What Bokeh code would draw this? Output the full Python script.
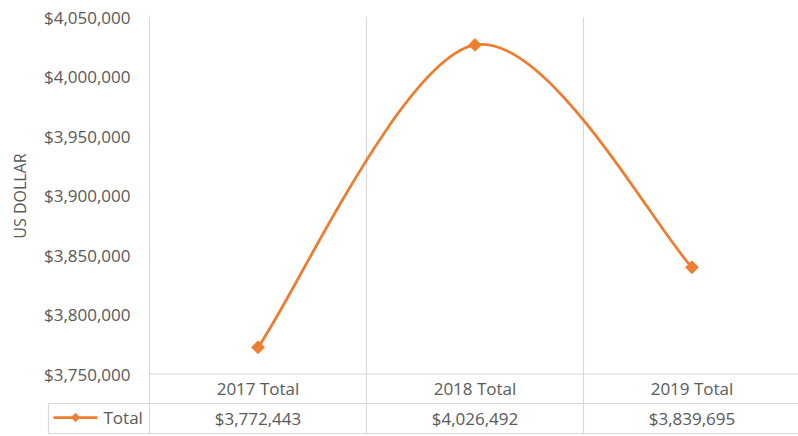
import math
from bokeh.plotting import figure
from bokeh.models import Range1d
from bokeh.core.properties import value
from bokeh.embed import file_html
from bokeh.resources import INLINE

# ---------------- data ----------------
categories = ["2017 Total", "2018 Total", "2019 Total"]
totals = [3772443, 4026492, 3839695]
value_labels = ["$3,772,443", "$4,026,492", "$3,839,695"]
y_ticks = [3750000, 3800000, 3850000, 3900000, 3950000, 4000000, 4050000]
y_tick_labels = ["$3,750,000", "$3,800,000", "$3,850,000", "$3,900,000",
                 "$3,950,000", "$4,000,000", "$4,050,000"]
series_name = "Total"
axis_title = "US DOLLAR"

# ---------------- layout ----------------
W, H = 798, 436
LEFT = 149          # canvas px to plot-area left edge
CAT_PX = 217        # px per category
TOP = 16.5          # canvas px to top tick
AXIS_PX = 357       # px between min and max tick
Y_MIN, Y_MAX = y_ticks[0], y_ticks[-1]
py = (Y_MAX - Y_MIN) / AXIS_PX   # dollars per px
px = 1.0 / CAT_PX                # category units per px

xr0 = -LEFT * px
xr1 = xr0 + W * px
yr1 = Y_MAX + TOP * py
yr0 = yr1 - H * py

ORANGE = "#ED7D31"
GRID = "#d9d9d9"
TXT = "#595959"
FONT = value("Open Sans")
FS = "17px"

p = figure(width=W, height=H, x_range=Range1d(xr0, xr1), y_range=Range1d(yr0, yr1),
           x_axis_type=None, y_axis_type=None, toolbar_location=None,
           output_backend="svg", min_border=0, outline_line_color=None,
           background_fill_color="white", border_fill_color="white")

n = len(categories)
xc = [i + 0.5 for i in range(n)]
row1 = Y_MIN - 29.5 * py
row2 = Y_MIN - 59.5 * py
leg_left = -101 * px

# grid / table lines
vx = list(range(n + 1))
p.segment(x0=vx, y0=[Y_MAX] * len(vx), x1=vx, y1=[row2] * len(vx),
          line_color=GRID, line_width=1.2)
p.segment(x0=[0, leg_left, leg_left, leg_left], y0=[Y_MIN, row1, row2, row1],
          x1=[xr1, xr1, xr1, leg_left], y1=[Y_MIN, row1, row2, row2],
          line_color=GRID, line_width=1.2)

# smoothed line (Catmull-Rom style Bezier like Excel)
pts = list(zip(xc, totals))
bx0, by0, bx1, by1, cx0, cy0, cx1, cy1 = [], [], [], [], [], [], [], []
for i in range(n - 1):
    p0 = pts[i - 1] if i > 0 else pts[i]
    p1 = pts[i]
    p2 = pts[i + 1]
    p3 = pts[i + 2] if i + 2 < n else pts[i + 1]
    bx0.append(p1[0]); by0.append(p1[1])
    bx1.append(p2[0]); by1.append(p2[1])
    cx0.append(p1[0] + (p2[0] - p0[0]) / 6); cy0.append(p1[1] + (p2[1] - p0[1]) / 6)
    cx1.append(p2[0] - (p3[0] - p1[0]) / 6); cy1.append(p2[1] - (p3[1] - p1[1]) / 6)
p.bezier(x0=bx0, y0=by0, x1=bx1, y1=by1, cx0=cx0, cy0=cy0, cx1=cx1, cy1=cy1,
         line_color=ORANGE, line_width=2.75)
p.scatter(x=xc, y=totals, marker="square", angle=math.pi / 4, size=9,
          fill_color=ORANGE, line_color=ORANGE)

# y tick labels
p.text(x=[-19 * px] * len(y_ticks), y=y_ticks, text=y_tick_labels,
       text_font=FONT, text_font_size=FS, text_color=TXT,
       text_align="right", text_baseline="middle")
# axis title
p.text(x=[xr0 + 19.5 * px], y=[Y_MIN + 178 * py], text=[axis_title], angle=math.pi / 2,
       text_font=FONT, text_font_size="16px", text_color=TXT,
       text_align="center", text_baseline="middle")

# table texts
p.text(x=xc, y=[Y_MIN - 14.5 * py] * n, text=categories,
       text_font=FONT, text_font_size=FS, text_color=TXT,
       text_align="center", text_baseline="middle")
p.text(x=xc, y=[Y_MIN - 44 * py] * n, text=value_labels,
       text_font=FONT, text_font_size=FS, text_color=TXT,
       text_align="center", text_baseline="middle")

# legend key
ly = Y_MIN - 43.5 * py
p.segment(x0=[-96 * px], y0=[ly], x1=[-52 * px], y1=[ly], line_color=ORANGE, line_width=2.75)
p.scatter(x=[-74 * px], y=[ly], marker="square", angle=math.pi / 4, size=6,
          fill_color=ORANGE, line_color=ORANGE)
p.text(x=[-46 * px], y=[ly], text=[series_name],
       text_font=FONT, text_font_size=FS, text_color=TXT,
       text_align="left", text_baseline="middle")

open("out.html", "w").write(file_html(p, INLINE))
